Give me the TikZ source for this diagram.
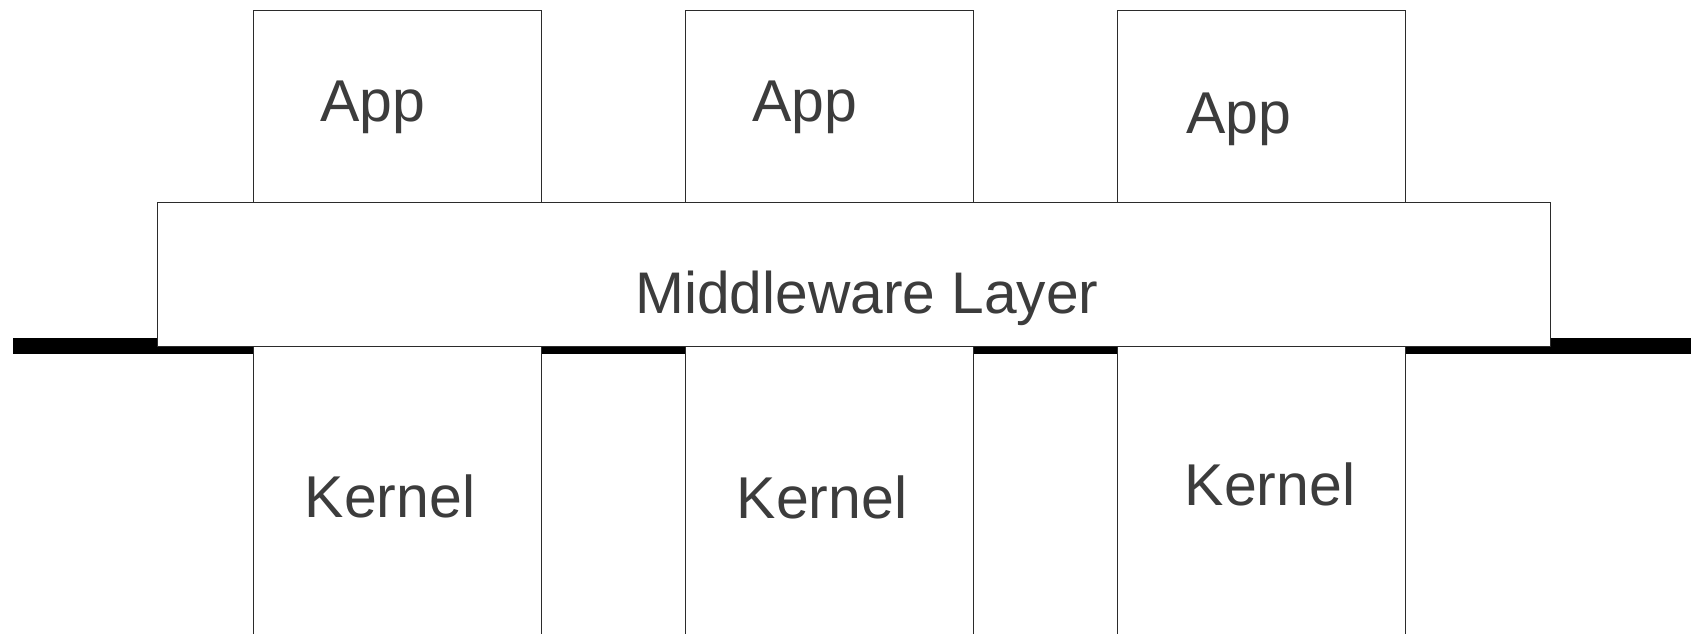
\documentclass[tikz,border=0pt]{standalone}
\usepackage{fontspec}
\setmainfont{Liberation Sans}
\definecolor{stkline}{HTML}{2B2B2B}
\definecolor{stktext}{HTML}{3C3C3C}
\definecolor{stkbus}{HTML}{000000}

\begin{document}
\begin{tikzpicture}[
    x=1pt, y=-1pt,
    every node/.style={inner sep=0pt, outer sep=0pt},
    layer/.style={rectangle, draw=stkline, fill=white, line width=0.9pt, anchor=north west},
    appbox/.style={layer, minimum width=288, minimum height=192},
    kernbox/.style={layer, minimum width=288, minimum height=330},
    lbl/.style={anchor=base, text=stktext, font=\fontsize{59}{62}\selectfont},
    lblbig/.style={lbl, font=\fontsize{58.7}{62}\selectfont},
    bus/.style={draw=stkbus, line width=15.3pt},
  ]

  \useasboundingbox (0,0) rectangle (1691,633);
  \clip (0,0) rectangle (1691,633);

  % system bus behind the stack
  \coordinate (busL) at (13,346);
  \coordinate (busR) at (1691,346);
  \draw[bus] (busL) -- (busR);

  \node[layer, minimum width=1393, minimum height=144] (MW) at (157,202) {};

  \node[appbox]  (APP1) at (253,10) {};
  \node[appbox]  (APP2) at (685,10) {};
  \node[appbox]  (APP3) at (1117,10) {};

  \node[kernbox] (K1) at (253,346) {};
  \node[kernbox] (K2) at (685,346) {};
  \node[kernbox] (K3) at (1117,346) {};

  \node[lbl] (APP1T) at (373,121) {App};
  \node[lbl] (APP2T) at (805,121) {App};
  \node[lbl] (APP3T) at (1239,133) {App};

  \node[lblbig] (MWT) at (867,313) {Middleware Layer};

  \node[lbl] (K1T) at (390,517) {Kernel};
  \node[lbl] (K2T) at (822,518) {Kernel};
  \node[lbl] (K3T) at (1270,505) {Kernel};

\end{tikzpicture}
\end{document}
